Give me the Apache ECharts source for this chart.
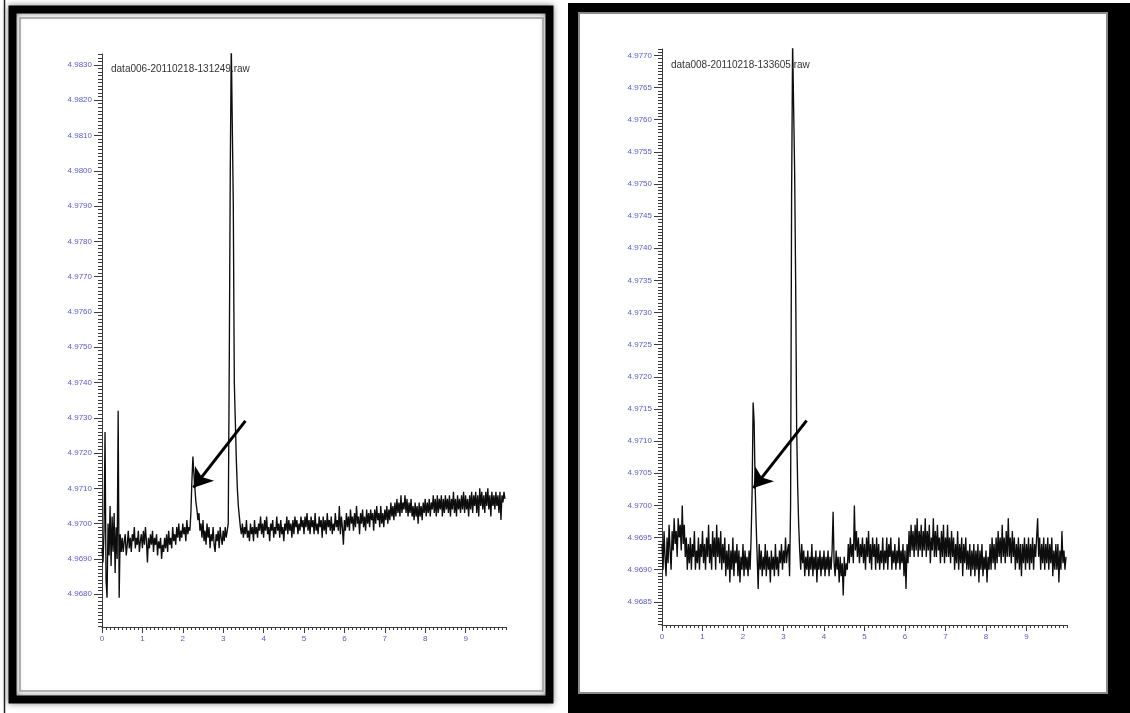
<!DOCTYPE html>
<html>
<head>
<meta charset="utf-8">
<script src="https://cdn.jsdelivr.net/npm/echarts@6/dist/echarts.min.js"></script>
<style>
  html, body { margin: 0; padding: 0; background: #fff; }
  #chart { width: 1130px; height: 713px; }
</style>
</head>
<body>
<div id="chart"></div>
<script>
// sampling interval of both traces (time axis units)
const sampleStep = 0.025

// left run: data006
const titleA = 'data006-20110218-131249.raw'
const signalA = [
  4.9693, 4.9689, 4.9698, 4.9726, 4.9684, 4.9679, 4.9700, 4.9691, 4.9705, 4.9688,
  4.9702, 4.9692, 4.9703, 4.9686, 4.9699, 4.9690, 4.9732, 4.9679, 4.9697, 4.9692,
  4.9696, 4.9692, 4.9695, 4.9697, 4.9691, 4.9694, 4.9698, 4.9693, 4.9696, 4.9692,
  4.9697, 4.9695, 4.9699, 4.9693, 4.9696, 4.9694, 4.9698, 4.9692, 4.9695, 4.9697,
  4.9693, 4.9698, 4.9694, 4.9699, 4.9695, 4.9689, 4.9696, 4.9693, 4.9697, 4.9694,
  4.9698, 4.9692, 4.9696, 4.9694, 4.9697, 4.9691, 4.9695, 4.9693, 4.9696, 4.9690,
  4.9694, 4.9692, 4.9696, 4.9693, 4.9697, 4.9692, 4.9698, 4.9694, 4.9696, 4.9693,
  4.9699, 4.9695, 4.9697, 4.9694, 4.9699, 4.9696, 4.9700, 4.9695, 4.9698, 4.9696,
  4.9700, 4.9697, 4.9699, 4.9695, 4.9701, 4.9697, 4.9699, 4.9698, 4.9703, 4.9712,
  4.9719, 4.9714, 4.9710, 4.9706, 4.9704, 4.9701, 4.9703, 4.9698, 4.9700, 4.9696,
  4.9701, 4.9695, 4.9698, 4.9694, 4.9700, 4.9696, 4.9699, 4.9693, 4.9697, 4.9695,
  4.9699, 4.9694, 4.9692, 4.9697, 4.9695, 4.9698, 4.9693, 4.9699, 4.9696, 4.9694,
  4.9698, 4.9695, 4.9699, 4.9696, 4.9698, 4.9700, 4.9745, 4.9800, 4.9836, 4.9836,
  4.9790, 4.9740, 4.9729, 4.9718, 4.9710, 4.9705, 4.9702, 4.9699, 4.9697, 4.9700,
  4.9696, 4.9699, 4.9697, 4.9701, 4.9696, 4.9698, 4.9695, 4.9700, 4.9697, 4.9699,
  4.9695, 4.9701, 4.9697, 4.9699, 4.9696, 4.9700, 4.9698, 4.9702, 4.9697, 4.9700,
  4.9696, 4.9701, 4.9698, 4.9702, 4.9697, 4.9699, 4.9695, 4.9700, 4.9698, 4.9701,
  4.9696, 4.9699, 4.9697, 4.9702, 4.9698, 4.9700, 4.9696, 4.9701, 4.9697, 4.9699,
  4.9695, 4.9700, 4.9698, 4.9702, 4.9697, 4.9701, 4.9698, 4.9700, 4.9696, 4.9701,
  4.9697, 4.9702, 4.9699, 4.9701, 4.9697, 4.9700, 4.9698, 4.9702, 4.9699, 4.9701,
  4.9697, 4.9702, 4.9699, 4.9703, 4.9698, 4.9701, 4.9697, 4.9702, 4.9699, 4.9701,
  4.9697, 4.9703, 4.9698, 4.9700, 4.9697, 4.9702, 4.9699, 4.9701, 4.9696, 4.9702,
  4.9698, 4.9701, 4.9697, 4.9703, 4.9699, 4.9701, 4.9698, 4.9702, 4.9697, 4.9700,
  4.9698, 4.9703, 4.9699, 4.9701, 4.9698, 4.9705, 4.9697, 4.9702, 4.9699, 4.9694,
  4.9701, 4.9698, 4.9703, 4.9699, 4.9702, 4.9698, 4.9704, 4.9700, 4.9702, 4.9698,
  4.9703, 4.9699, 4.9705, 4.9700, 4.9702, 4.9697, 4.9703, 4.9700, 4.9704, 4.9699,
  4.9702, 4.9698, 4.9704, 4.9700, 4.9703, 4.9699, 4.9704, 4.9701, 4.9703, 4.9698,
  4.9704, 4.9700, 4.9705, 4.9701, 4.9703, 4.9699, 4.9705, 4.9700, 4.9703, 4.9699,
  4.9704, 4.9701, 4.9705, 4.9700, 4.9704, 4.9701, 4.9706, 4.9702, 4.9705, 4.9701,
  4.9706, 4.9702, 4.9707, 4.9703, 4.9706, 4.9702, 4.9708, 4.9703, 4.9706, 4.9704,
  4.9708, 4.9703, 4.9707, 4.9702, 4.9706, 4.9703, 4.9707, 4.9702, 4.9705, 4.9701,
  4.9706, 4.9702, 4.9705, 4.9700, 4.9706, 4.9702, 4.9705, 4.9701, 4.9706, 4.9703,
  4.9707, 4.9702, 4.9706, 4.9703, 4.9707, 4.9702, 4.9706, 4.9704, 4.9708, 4.9703,
  4.9707, 4.9702, 4.9708, 4.9703, 4.9707, 4.9704, 4.9708, 4.9702, 4.9707, 4.9703,
  4.9708, 4.9704, 4.9707, 4.9703, 4.9708, 4.9702, 4.9707, 4.9704, 4.9709, 4.9703,
  4.9707, 4.9702, 4.9708, 4.9704, 4.9707, 4.9703, 4.9708, 4.9704, 4.9709, 4.9703,
  4.9708, 4.9704, 4.9707, 4.9702, 4.9708, 4.9704, 4.9709, 4.9703, 4.9708, 4.9705,
  4.9709, 4.9703, 4.9708, 4.9702, 4.9710, 4.9705, 4.9709, 4.9704, 4.9708, 4.9703,
  4.9709, 4.9705, 4.9710, 4.9704, 4.9708, 4.9702, 4.9709, 4.9705, 4.9708, 4.9704,
  4.9709, 4.9705, 4.9708, 4.9703, 4.9709, 4.9701, 4.9708, 4.9706, 4.9709, 4.9707
]
const levelTicksA = [4.968, 4.969, 4.970, 4.971, 4.972, 4.973, 4.974, 4.975,
  4.976, 4.977, 4.978, 4.979, 4.980, 4.981, 4.982, 4.983]
const arrowA = [[3.55, 4.97291], [2.265, 4.97102]]

// right run: data008
const titleB = 'data008-20110218-133605.raw'
const signalB = [
  4.9694, 4.9690, 4.9696, 4.9692, 4.9689, 4.9695, 4.9691, 4.9697, 4.9693, 4.9690,
  4.9696, 4.9693, 4.9698, 4.9694, 4.9696, 4.9692, 4.9698, 4.9695, 4.9697, 4.9693,
  4.9700, 4.9694, 4.9697, 4.9692, 4.9695, 4.9690, 4.9694, 4.9691, 4.9695, 4.9690,
  4.9694, 4.9692, 4.9696, 4.9690, 4.9693, 4.9691, 4.9695, 4.9690, 4.9694, 4.9692,
  4.9696, 4.9691, 4.9694, 4.9690, 4.9695, 4.9692, 4.9697, 4.9691, 4.9694, 4.9690,
  4.9696, 4.9692, 4.9695, 4.9690, 4.9697, 4.9692, 4.9695, 4.9691, 4.9696, 4.9690,
  4.9694, 4.9691, 4.9695, 4.9689, 4.9693, 4.9690, 4.9694, 4.9688, 4.9693, 4.9690,
  4.9695, 4.9689, 4.9693, 4.9691, 4.9694, 4.9689, 4.9693, 4.9688, 4.9692, 4.9690,
  4.9694, 4.9689, 4.9693, 4.9690, 4.9692, 4.9689, 4.9693, 4.9690, 4.9695, 4.9702,
  4.9716, 4.9713, 4.9703, 4.9697, 4.9692, 4.9687, 4.9694, 4.9690, 4.9693, 4.9689,
  4.9692, 4.9690, 4.9694, 4.9689, 4.9693, 4.9690, 4.9692, 4.9688, 4.9693, 4.9690,
  4.9692, 4.9689, 4.9694, 4.9690, 4.9692, 4.9689, 4.9693, 4.9691, 4.9694, 4.9690,
  4.9693, 4.9691, 4.9695, 4.9691, 4.9693, 4.9694, 4.9689, 4.9700, 4.9748, 4.9772,
  4.9772, 4.9752, 4.9735, 4.9712, 4.9703, 4.9697, 4.9693, 4.9690, 4.9694, 4.9691,
  4.9693, 4.9689, 4.9692, 4.9690, 4.9693, 4.9689, 4.9692, 4.9690, 4.9694, 4.9689,
  4.9692, 4.9690, 4.9693, 4.9688, 4.9692, 4.9690, 4.9693, 4.9689, 4.9692, 4.9690,
  4.9693, 4.9689, 4.9692, 4.9690, 4.9693, 4.9689, 4.9692, 4.9690, 4.9693, 4.9699,
  4.9691, 4.9689, 4.9693, 4.9690, 4.9692, 4.9688, 4.9692, 4.9689, 4.9691, 4.9686,
  4.9692, 4.9689, 4.9691, 4.9690, 4.9694, 4.9691, 4.9695, 4.9692, 4.9694, 4.9691,
  4.9700, 4.9693, 4.9696, 4.9692, 4.9695, 4.9691, 4.9694, 4.9692, 4.9695, 4.9691,
  4.9694, 4.9690, 4.9695, 4.9692, 4.9696, 4.9691, 4.9694, 4.9690, 4.9695, 4.9692,
  4.9694, 4.9690, 4.9695, 4.9691, 4.9694, 4.9690, 4.9693, 4.9691, 4.9695, 4.9690,
  4.9693, 4.9691, 4.9695, 4.9690, 4.9694, 4.9692, 4.9695, 4.9690, 4.9693, 4.9691,
  4.9694, 4.9690, 4.9693, 4.9691, 4.9695, 4.9690, 4.9693, 4.9691, 4.9694, 4.9689,
  4.9693, 4.9687, 4.9694, 4.9691, 4.9696, 4.9692, 4.9697, 4.9693, 4.9696, 4.9692,
  4.9697, 4.9693, 4.9698, 4.9692, 4.9696, 4.9693, 4.9697, 4.9692, 4.9696, 4.9693,
  4.9698, 4.9692, 4.9696, 4.9693, 4.9697, 4.9691, 4.9695, 4.9693, 4.9698, 4.9692,
  4.9696, 4.9692, 4.9697, 4.9693, 4.9695, 4.9691, 4.9696, 4.9692, 4.9697, 4.9691,
  4.9695, 4.9692, 4.9697, 4.9692, 4.9695, 4.9691, 4.9696, 4.9692, 4.9695, 4.9690,
  4.9694, 4.9691, 4.9696, 4.9690, 4.9694, 4.9691, 4.9695, 4.9689, 4.9694, 4.9691,
  4.9695, 4.9690, 4.9693, 4.9690, 4.9694, 4.9689, 4.9693, 4.9690, 4.9694, 4.9689,
  4.9693, 4.9690, 4.9694, 4.9688, 4.9693, 4.9690, 4.9694, 4.9689, 4.9692, 4.9690,
  4.9693, 4.9688, 4.9692, 4.9690, 4.9694, 4.9690, 4.9695, 4.9691, 4.9694, 4.9690,
  4.9695, 4.9691, 4.9696, 4.9692, 4.9695, 4.9691, 4.9697, 4.9692, 4.9695, 4.9691,
  4.9696, 4.9692, 4.9698, 4.9692, 4.9695, 4.9691, 4.9696, 4.9692, 4.9695, 4.9690,
  4.9694, 4.9691, 4.9695, 4.9690, 4.9694, 4.9689, 4.9694, 4.9691, 4.9695, 4.9690,
  4.9694, 4.9691, 4.9695, 4.9690, 4.9694, 4.9691, 4.9695, 4.9690, 4.9694, 4.9692,
  4.9695, 4.9698, 4.9692, 4.9695, 4.9690, 4.9694, 4.9691, 4.9695, 4.9690, 4.9694,
  4.9691, 4.9695, 4.9690, 4.9694, 4.9691, 4.9695, 4.9689, 4.9693, 4.9690, 4.9694,
  4.9690, 4.9694, 4.9688, 4.9693, 4.9690, 4.9696, 4.9691, 4.9693, 4.9690, 4.9692
]
const levelTicksB = [4.9685, 4.9690, 4.9695, 4.9700, 4.9705, 4.9710, 4.9715, 4.9720,
  4.9725, 4.9730, 4.9735, 4.9740, 4.9745, 4.9750, 4.9755, 4.9760, 4.9765, 4.9770]
const arrowB = [[3.57, 4.97132], [2.26, 4.97027]]

const timeTicks = [0, 1, 2, 3, 4, 5, 6, 7, 8, 9]

// pair each sample with its time stamp
const toPoints = (vals) => vals.map((v, i) => [+(i * sampleStep).toFixed(3), v])

// small helper for the minor tick positions
function minorTicks(min, max, step) {
  const out = []
  for (let k = Math.ceil(min / step - 1e-6); k * step <= max + 1e-9; k++) out.push(+(k * step).toFixed(6))
  return out
}

const FONT = 'Liberation Sans'
const LABEL_COLOR = '#5a5ad2'
const AXIS_COLOR = '#3a3a3a'

const panels = [
  { left: 102, top: 54, width: 404, height: 573, ymin: 4.96707, ymax: 4.98331,
    yMinorStep: 0.0001, ticks: levelTicksA, data: signalA, arrow: arrowA,
    title: titleA, titleLeft: 111, titleTop: 64 },
  { left: 662, top: 49, width: 405, height: 576, ymin: 4.96814, ymax: 4.97710,
    yMinorStep: 0.00005, ticks: levelTicksB, data: signalB, arrow: arrowB,
    title: titleB, titleLeft: 671, titleTop: 60 }
]

const grid = [], xAxis = [], yAxis = [], series = [], title = []
panels.forEach((p, i) => {
  grid.push({ left: p.left, top: p.top, width: p.width, height: p.height, containLabel: false })
  title.push({
    text: p.title, left: p.titleLeft, top: p.titleTop, padding: 0,
    textStyle: { fontSize: 10, fontWeight: 'normal', color: '#333', fontFamily: FONT }
  })
  // main x axis: line, integer ticks, labels
  xAxis.push({
    type: 'value', gridIndex: i, min: 0, max: 10, position: 'bottom',
    axisLine: { show: true, lineStyle: { color: AXIS_COLOR, width: 1 } },
    axisTick: { show: true, length: 6, customValues: timeTicks, lineStyle: { color: AXIS_COLOR } },
    axisLabel: { customValues: timeTicks, margin: 8, fontSize: 8, color: LABEL_COLOR, fontFamily: FONT },
    splitLine: { show: false }
  })
  // minor x ticks
  xAxis.push({
    type: 'value', gridIndex: i, min: 0, max: 10, position: 'bottom',
    axisLine: { show: false },
    axisTick: { show: true, length: 3, customValues: minorTicks(0, 10, 0.1), lineStyle: { color: AXIS_COLOR } },
    axisLabel: { show: false },
    splitLine: { show: false }
  })
  yAxis.push({
    type: 'value', gridIndex: i, min: p.ymin, max: p.ymax, position: 'left',
    axisLine: { show: true, lineStyle: { color: AXIS_COLOR, width: 1 } },
    axisTick: { show: true, length: 8, customValues: p.ticks, lineStyle: { color: AXIS_COLOR } },
    axisLabel: {
      customValues: p.ticks, margin: 10, fontSize: 8, color: LABEL_COLOR, fontFamily: FONT,
      formatter: (v) => v.toFixed(4)
    },
    splitLine: { show: false }
  })
  yAxis.push({
    type: 'value', gridIndex: i, min: p.ymin, max: p.ymax, position: 'left',
    axisLine: { show: false },
    axisTick: { show: true, length: 4, customValues: minorTicks(p.ymin, p.ymax, p.yMinorStep), lineStyle: { color: AXIS_COLOR } },
    axisLabel: { show: false },
    splitLine: { show: false }
  })
  series.push({
    type: 'line', xAxisIndex: i * 2, yAxisIndex: i * 2,
    data: toPoints(p.data), showSymbol: false, symbol: 'none',
    lineStyle: { color: '#0d0d0d', width: 1.35 },
    clip: true, silent: true,
    markLine: {
      silent: true, symbol: ['none', 'arrow'], symbolSize: 18,
      lineStyle: { color: '#000', width: 3, type: 'solid' },
      itemStyle: { color: '#000' },
      label: { show: false },
      emphasis: { disabled: true },
      data: [[{ coord: p.arrow[0] }, { coord: p.arrow[1] }]]
    }
  })
})

const chart = echarts.init(document.getElementById('chart'), null, { renderer: 'canvas' })
chart.setOption({
  animation: false,
  backgroundColor: '#ffffff',
  title: title,
  grid: grid,
  xAxis: xAxis,
  yAxis: yAxis,
  series: series,
  graphic: [
    // left picture frame
    { type: 'line', z: -1, shape: { x1: 4.5, y1: 0, x2: 4.5, y2: 713 }, style: { stroke: '#222', lineWidth: 1.5 } },
    { type: 'rect', z: -1, shape: { x: 12.5, y: 9.5, width: 537, height: 690 },
      style: { fill: 'none', stroke: '#000', lineWidth: 8, shadowBlur: 6, shadowColor: 'rgba(0,0,0,0.5)' } },
    { type: 'rect', z: -1, shape: { x: 20, y: 18, width: 523, height: 673 },
      style: { fill: 'none', stroke: '#9a9a9a', lineWidth: 1.5 } },
    // right picture frame
    { type: 'rect', z: -2, shape: { x: 568, y: 3, width: 562, height: 710 }, style: { fill: '#000' } },
    { type: 'rect', z: -1, shape: { x: 579, y: 13, width: 528, height: 680 },
      style: { fill: '#fff', stroke: '#8a8a8a', lineWidth: 2 } }
  ]
})
</script>
</body>
</html>
